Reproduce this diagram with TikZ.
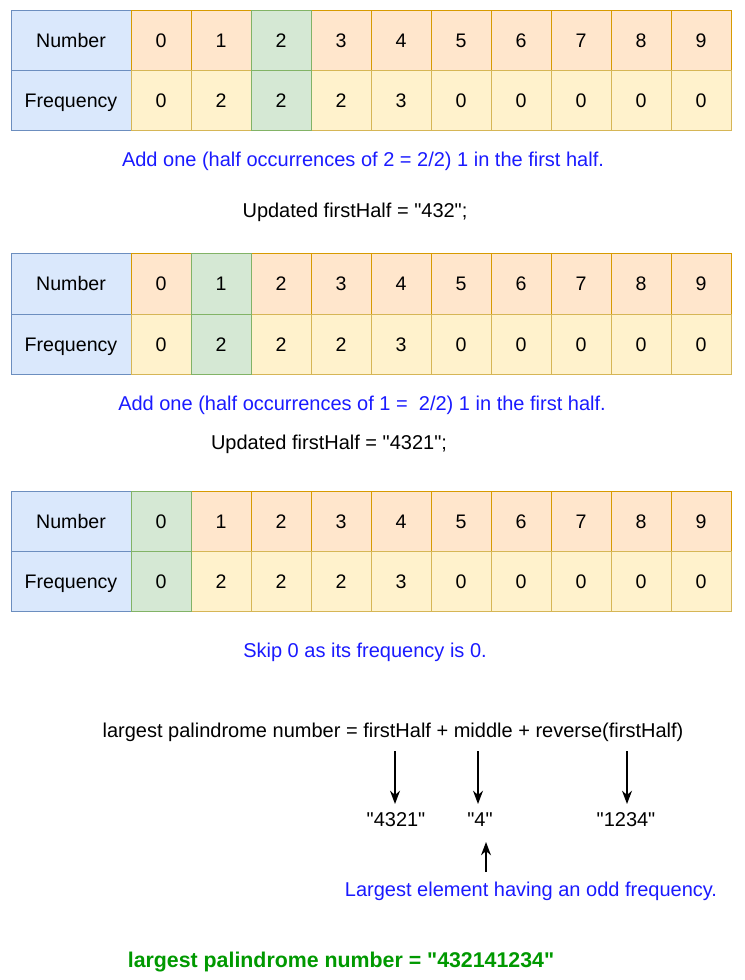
\documentclass[tikz,border=0pt]{standalone}
\usepackage{fontspec}
\setmainfont{Liberation Sans}[Ligatures=TeXOff]
\usepackage{tikz}
\usetikzlibrary{arrows.meta,positioning}
\definecolor{hdfill}{HTML}{DAE8FC}
\definecolor{hddraw}{HTML}{6C8EBF}
\definecolor{numfill}{HTML}{FFE6CC}
\definecolor{numdraw}{HTML}{D79B00}
\definecolor{frqfill}{HTML}{FFF2CC}
\definecolor{frqdraw}{HTML}{D6B656}
\definecolor{selfill}{HTML}{D5E8D4}
\definecolor{seldraw}{HTML}{82B366}
\definecolor{noteblue}{HTML}{1A1AFF}
\definecolor{resgreen}{HTML}{009900}

\begin{document}
\begin{tikzpicture}[x=0.75pt,y=-0.75pt,font=\fontsize{15pt}{18pt}\selectfont]
      \tikzstyle{cell}=[draw,line width=0.75pt,minimum width=45pt,minimum height=45pt,inner sep=0pt,text height=10.5pt,text depth=0pt,font=\fontsize{14.7pt}{17pt}\selectfont]
      \tikzstyle{hd}=[cell,fill=hdfill,draw=hddraw,minimum width=90pt]
      \tikzstyle{num}=[cell,fill=numfill,draw=numdraw]
      \tikzstyle{frq}=[cell,fill=frqfill,draw=frqdraw]
      \tikzstyle{sel}=[cell,fill=selfill,draw=seldraw]
      \tikzstyle{lbl}=[inner sep=0pt,text height=10.5pt,text depth=0pt]
      \tikzstyle{note}=[lbl,text=noteblue]
      \tikzstyle{val}=[lbl,outer ysep=6pt]
      \tikzstyle{arr}=[-{Stealth[length=10pt,width=7.5pt]},line width=1.2pt]
      \useasboundingbox (0,0) rectangle (744,980);
      % frequency tables
      \foreach \t/\y/\g in {a/41/2,b/284/1,c/521/0} {
        \node[hd] (\t num) at (71,\y) {Number};
        \node[hd] (\t frq) at (71,\y+60) {Frequency};
        \foreach \f [count=\n from 0] in {0,2,2,2,3,0,0,0,0,0} {
          \ifnum\n=\g\relax\else
            \node[num] (\t n\n) at (161+60*\n,\y) {\n};
            \node[frq] (\t f\n) at (161+60*\n,\y+60) {\f};
          \fi
        }
        \node[sel] (\t n\g) at (161+60*\g,\y) {\g};
        \node[sel] (\t f\g) at (161+60*\g,\y+60) {2};
      }
      \node[sel] (cf0) at (161,581) {0};
      % steps
      \node[note] (adda) at (363,160) {Add one (half occurrences of 2 = 2/2) 1 in the first half.};
      \node[lbl] (upda) at (355,211) {Updated firstHalf = "432";};
      \node[note] (addb) at (362,403) {Add one (half occurrences of 1 =\ \ 2/2) 1 in the first half.};
      \node[lbl] (updb) at (329,442) {Updated firstHalf = "4321";};
      \node[note] (skip) at (365,650) {Skip 0 as its frequency is 0.};
      % result
      \node[lbl] (frm) at (393,730) {largest palindrome number = firstHalf + middle + reverse(firstHalf)};
      \node[val] (vfh) at (396,819) {"4321"};
      \node[val] (vmid) at (480,819) {"4"};
      \node[val] (vrev) at (626,819) {"1234"};
      \node[note] (odd) at (531,889) {Largest element having an odd frequency.};
      \node[lbl,text=resgreen,font=\fontsize{16pt}{19pt}\selectfont\bfseries] (res) at (341,960) {largest palindrome number = "432141234"};
      \coordinate (afh) at (395,751);
      \coordinate (amid) at (478,751);
      \coordinate (arev) at (627,751);
      \coordinate (aodd) at (486,872);
      \draw[arr] (afh) -- (afh |- vfh.north);
      \draw[arr] (amid) -- (amid |- vmid.north);
      \draw[arr] (arev) -- (arev |- vrev.north);
      \draw[arr,shorten >=6pt] (aodd) -- (aodd |- vmid.south);
    \end{tikzpicture}
\end{document}
